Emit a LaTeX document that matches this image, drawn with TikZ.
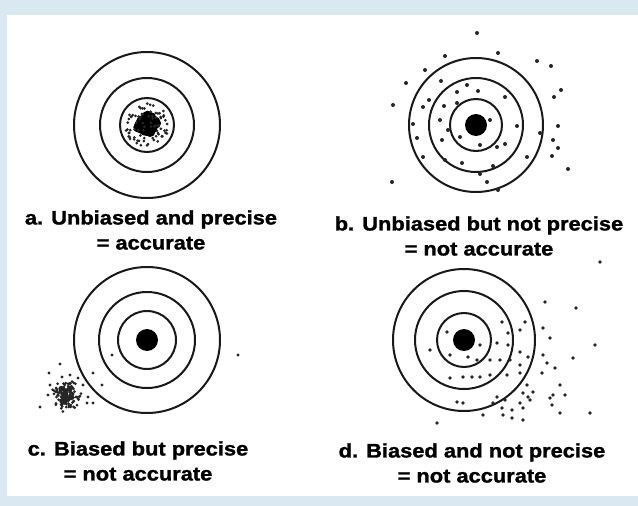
\documentclass[tikz,border=0pt]{standalone}
\usepackage{fontspec}
\setmainfont[FakeStretch=1.12, BoldFeatures={FakeBold=1.4}]{Liberation Sans}
\usepackage{xcolor}
\usepackage{tikz}
\usetikzlibrary{positioning}
\definecolor{bleupale}{RGB}{218,232,241}

\begin{document}
\begin{tikzpicture}[x=1pt, y=-1pt,
    anneau/.style={draw=black!90, line width=2pt},
    mouche/.style={fill=black},
    impact/.style={fill=black!85},
    legende/.style={align=center, inner sep=0pt,
                    font=\fontsize{19.5}{25}\selectfont\bfseries}]
    \useasboundingbox (0,0) rectangle (638,506);
    \fill[bleupale] (0,0) rectangle (638,506);
    \fill[white] (7,15) rectangle (638,496);
    % les quatre cibles
    \coordinate (cibleA) at (147,125);
    \coordinate (cibleB) at (476,125);
    \coordinate (cibleC) at (147,340);
    \coordinate (cibleD) at (464,340);
    \foreach \c/\ra/\rb/\rc in {cibleA/73/47/27, cibleB/67/47/26,
                                cibleC/73/48/29, cibleD/71/49/27} {
        \draw[anneau] (\c) circle (\ra) (\c) circle (\rb) (\c) circle (\rc);
        \fill[mouche] (\c) circle (11);
    }
    % a. groupe serre au centre
    \pgfmathsetseed{3}
    \foreach \i in {1,...,26} {
        \pgfmathsetmacro\ang{360*rnd}
        \pgfmathsetmacro\rr{9*rnd}
        \fill[mouche] (cibleA) ++(\ang:\rr) circle (5.5);
    }
    \foreach \i in {1,...,80} {
        \pgfmathsetmacro\ang{360*rnd}
        \pgfmathsetmacro\rr{22*sqrt(rnd)}
        \fill[impact] (cibleA) ++(\ang:\rr) circle (1.5);
    }
    % b. impacts disperses
    \foreach \p in {(477,33), (445,56), (498,53), (537,61), (551,66), (425,70),
                    (406,83), (441,81), (561,90), (554,97), (393,105), (429,100),
                    (457,92), (478,91), (505,97), (423,107), (444,106), (467,85),
                    (517,126), (413,124), (440,120), (448,130), (490,120), (460,137),
                    (480,145), (497,147), (505,144), (540,133), (553,140), (558,148),
                    (552,156), (527,157), (423,157), (445,160), (462,163), (493,166),
                    (480,174), (392,182), (487,182), (498,190), (568,169), (442,140),
                    (417,138), (558,126), (457,103)} {
        \fill[impact] \p circle (2);
    }
    % c. groupe serre decale
    \coordinate (groupeC) at (66,396);
    \pgfmathsetseed{11}
    \foreach \i in {1,...,10} {
        \pgfmathsetmacro\ang{360*rnd}
        \pgfmathsetmacro\rr{9*rnd}
        \fill[impact] (groupeC) ++(\ang:\rr) circle (3);
    }
    \foreach \i in {1,...,130} {
        \pgfmathsetmacro\ang{360*rnd}
        \pgfmathsetmacro\rr{16*rnd}
        \fill[impact] (groupeC) ++(\ang:\rr) circle (1.5);
    }
    \foreach \p in {(60,364), (49,373), (62,377), (70,375), (78,378), (50,385),
                    (93,373), (102,385), (83,385), (40,407), (48,395), (88,397),
                    (93,403), (87,403), (112,355), (238,355)} {
        \fill[impact] \p circle (1.7);
    }
    % d. impacts disperses et decales
    \foreach \p in {(545,302), (576,308), (502,322), (525,322), (520,330), (543,328),
                    (550,338), (508,333), (447,332), (480,345), (497,343), (508,345),
                    (520,352), (430,350), (450,355), (468,357), (477,360), (490,360),
                    (500,360), (510,360), (520,365), (528,357), (543,355), (547,363),
                    (555,368), (573,358), (595,345), (542,373), (450,378), (463,377),
                    (472,377), (480,377), (490,375), (507,375), (520,373), (527,385),
                    (560,385), (533,392), (523,393), (553,395), (565,395), (497,397),
                    (505,400), (528,397), (550,398), (457,402), (463,403), (493,403),
                    (520,403), (530,400), (552,405), (502,408), (512,410), (523,408),
                    (560,413), (590,413), (483,415), (503,415), (512,418), (523,420),
                    (437,423), (600,262)} {
        \fill[impact] \p circle (1.8);
    }
    % legendes
    \node[legende] (legA) at (151,230) {a. Unbiased and precise\\= accurate};
    \node[legende] (legB) at (479,236) {b. Unbiased but not precise\\= not accurate};
    \node[legende] (legC) at (138,461) {c. Biased but precise\\= not accurate};
    \node[legende] (legD) at (472,463) {d. Biased and not precise\\= not accurate};
\end{tikzpicture}
\end{document}
